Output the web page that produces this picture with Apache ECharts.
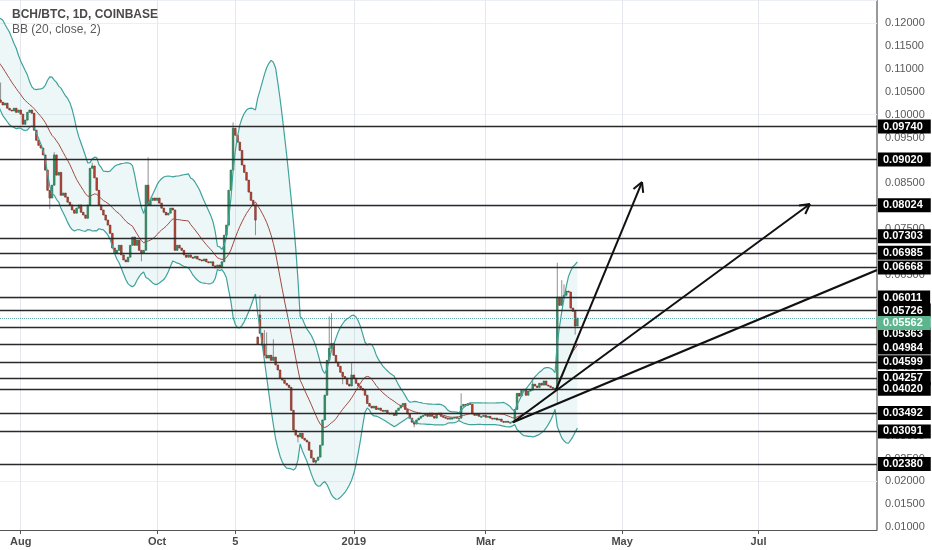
<!DOCTYPE html>
<html lang="en">
<head>
<meta charset="UTF-8">
<title>BCH/BTC, 1D, COINBASE</title>
<script src="https://cdn.jsdelivr.net/npm/echarts@6/dist/echarts.min.js"></script>
<style>
    html, body { margin: 0; padding: 0; background: #fff; }
    #chart { width: 932px; height: 550px; }
</style>
</head>
<body>
<div id="chart"></div>
<script>
    // bar number counted from Jul 1 2018 (Aug 1 = 31); bars before 22 only feed the bands
    var firstBar = 2;
    var closes = [
        0.1150, 0.1165, 0.1180, 0.1172, 0.1160, 0.1168, 0.1155, 0.1140, 0.1148, 0.1130,
        0.1118, 0.1105, 0.1092, 0.1100, 0.1080, 0.1065, 0.1058, 0.1046, 0.1040, 0.1032,
        0.1027, 0.1021, 0.1025, 0.1014, 0.1010, 0.1008, 0.1014, 0.1005, 0.1010,
        0.1001, 0.0979, 0.0988, 0.1005, 0.1010, 0.1003, 0.0966, 0.0944, 0.0933, 0.0927,
        0.0912, 0.0879, 0.0835, 0.0818, 0.0846, 0.0912, 0.0868, 0.0874, 0.0824, 0.0829,
        0.0820, 0.0809, 0.0803, 0.0792, 0.0785, 0.0796, 0.0803, 0.0787, 0.0781, 0.0774,
        0.0803, 0.0883, 0.0888, 0.0862, 0.0835, 0.0803, 0.0792, 0.0781, 0.0770, 0.0759,
        0.0741, 0.0709, 0.0698, 0.0704, 0.0715, 0.0694, 0.0683, 0.0679, 0.0689, 0.0715,
        0.0733, 0.0715, 0.0726, 0.0704, 0.0698, 0.0704, 0.0846, 0.0803, 0.0813, 0.0818,
        0.0813, 0.0818, 0.0807, 0.0796, 0.0787, 0.0781, 0.0785, 0.0796, 0.0792, 0.0704,
        0.0715, 0.0709, 0.0704, 0.0694, 0.0689, 0.0694, 0.0689, 0.0687, 0.0691, 0.0685,
        0.0683, 0.0681, 0.0685, 0.0679, 0.0677, 0.0679, 0.0670, 0.0666, 0.0672, 0.0666,
        0.0679, 0.0737, 0.0759, 0.0835, 0.0879, 0.0970, 0.0955, 0.0940, 0.0922, 0.0890,
        0.0874, 0.0857, 0.0831, 0.0813, 0.0803, 0.0770, 0.0500, 0.0523, 0.0497, 0.0475,
        0.0469, 0.0475, 0.0464, 0.0471, 0.0454, 0.0443, 0.0425, 0.0421, 0.0414, 0.0410,
        0.0405, 0.0355, 0.0312, 0.0301, 0.0297, 0.0305, 0.0294, 0.0290, 0.0286, 0.0268,
        0.0251, 0.0242, 0.0246, 0.0253, 0.0279, 0.0334, 0.0388, 0.0464, 0.0490, 0.0501,
        0.0475, 0.0460, 0.0451, 0.0438, 0.0429, 0.0425, 0.0412, 0.0408, 0.0432, 0.0425,
        0.0414, 0.0408, 0.0403, 0.0399, 0.0388, 0.0370, 0.0364, 0.0360, 0.0364, 0.0357,
        0.0360, 0.0355, 0.0353, 0.0355, 0.0349, 0.0347, 0.0349, 0.0344, 0.0355, 0.0360,
        0.0366, 0.0370, 0.0357, 0.0347, 0.0338, 0.0329, 0.0325, 0.0334, 0.0338, 0.0342,
        0.0344, 0.0347, 0.0342, 0.0349, 0.0342, 0.0338, 0.0347, 0.0349, 0.0342, 0.0340,
        0.0338, 0.0336, 0.0338, 0.0338, 0.0340, 0.0338, 0.0338, 0.0364, 0.0368, 0.0366,
        0.0370, 0.0368, 0.0347, 0.0344, 0.0347, 0.0342, 0.0342, 0.0344, 0.0340, 0.0342,
        0.0338, 0.0336, 0.0338, 0.0334, 0.0336, 0.0331, 0.0329, 0.0331, 0.0329, 0.0329,
        0.0331, 0.0357, 0.0392, 0.0386, 0.0399, 0.0401, 0.0388, 0.0397, 0.0399, 0.0412,
        0.0408, 0.0405, 0.0414, 0.0410, 0.0419, 0.0410, 0.0408, 0.0405, 0.0403, 0.0403,
        0.0602, 0.0584, 0.0600, 0.0606, 0.0615, 0.0613, 0.0578, 0.0571, 0.0539, 0.05562
    ];
    // opens that gap away from the previous close (fork pause)
    var gapOpens = [[137, 0.0515], [138, 0.0563]];
    var wickHighs = [[22, 0.1070], [46, 0.0918], [63, 0.0895], [88, 0.0907], [126, 0.0983],
        [138, 0.0606], [140, 0.0530], [141, 0.0525], [144, 0.0510], [169, 0.0560], [170, 0.0567],
        [179, 0.0458], [228, 0.0392], [260, 0.0425], [271, 0.0677], [273, 0.0639], [274, 0.0630]];
    var wickLows = [[44, 0.0794], [85, 0.0680], [136, 0.0737], [155, 0.0285], [163, 0.0238],
        [175, 0.0412], [207, 0.0318], [271, 0.0368], [279, 0.0520]];

    var levels = [0.09740, 0.09020, 0.08024, 0.07303, 0.06985, 0.06668, 0.06011, 0.05726,
        0.05363, 0.04984, 0.04599, 0.04257, 0.04020, 0.03492, 0.03091, 0.02380];
    var lastPrice = 0.05562;
    // label nudges (px) where the price boxes would collide
    var labelShift = { '0.07303': -2, '0.05363': 7, '0.04984': 3, '0.05562': 5 };

    // [fromBar, fromPrice, toBar, toPrice, hasHead]
    var arrows = [
        [270.4, 0.0399, 308.9, 0.0853, 1],
        [251.2, 0.0329, 384.0, 0.0805, 1],
        [251.2, 0.0329, 414.0, 0.0661, 0]
    ];

    var xTickBars = [31, 92, 127, 180, 239, 300, 361];
    var xTickLabels = ['Aug', 'Oct', '5', '2019', 'Mar', 'May', 'Jul'];
    var yTicks = [0.010, 0.015, 0.020, 0.025, 0.030, 0.035, 0.040, 0.045, 0.050, 0.055, 0.060,
        0.065, 0.070, 0.075, 0.080, 0.085, 0.090, 0.095, 0.100, 0.105, 0.110, 0.115, 0.120];

    var openOver = {}, highOver = {}, lowOver = {};
    gapOpens.forEach(function (d) { openOver[d[0]] = d[1]; });
    wickHighs.forEach(function (d) { highOver[d[0]] = d[1]; });
    wickLows.forEach(function (d) { lowOver[d[0]] = d[1]; });

    var candles = [];
    for (var k = 0; k < closes.length; k++) {
        var i = firstBar + k;
        var c = closes[k];
        var o = openOver[i] !== undefined ? openOver[i] : (k > 0 ? closes[k - 1] : c);
        var h = Math.max(o, c), l = Math.min(o, c);
        if (highOver[i] !== undefined) h = Math.max(h, highOver[i]);
        if (lowOver[i] !== undefined) l = Math.min(l, lowOver[i]);
        candles.push([i, o, c, l, h]);
    }

    // BB (20, close, 2)
    var bbMid = [], bbUp = [], bbLow = [];
    for (var k = 19; k < closes.length; k++) {
        var win = closes.slice(k - 19, k + 1);
        var mean = win.reduce(function (a, b) { return a + b; }, 0) / 20;
        var v = win.reduce(function (a, b) { return a + (b - mean) * (b - mean); }, 0) / 20;
        var sd = Math.sqrt(v);
        var i = firstBar + k;
        bbMid.push([i, mean]);
        bbUp.push([i, mean + 2 * sd]);
        bbLow.push([i, mean - 2 * sd]);
    }

    // one polygon between the bands
    function renderBand(params, api) {
        var pts = [];
        bbUp.forEach(function (d) { pts.push(api.coord(d)); });
        for (var k = bbLow.length - 1; k >= 0; k--) pts.push(api.coord(bbLow[k]));
        return { type: 'polygon', shape: { points: pts }, style: { fill: 'rgba(110,190,195,0.12)' } };
    }

    function renderCandle(params, api) {
        var x = api.value(0);
        var pO = api.coord([x, api.value(1)]);
        var pC = api.coord([x, api.value(2)]);
        var pL = api.coord([x, api.value(3)]);
        var pH = api.coord([x, api.value(4)]);
        var up = api.value(2) >= api.value(1);
        var w = api.size([1, 0])[0] * 0.72;
        var top = Math.min(pO[1], pC[1]);
        var bh = Math.max(Math.abs(pO[1] - pC[1]), 1);
        return {
            type: 'group',
            children: [
                { type: 'line', shape: { x1: pL[0], y1: pL[1], x2: pH[0], y2: pH[1] },
                  style: { stroke: '#8f8f8f', lineWidth: 1 } },
                { type: 'rect', shape: { x: pO[0] - w / 2, y: top, width: w, height: bh },
                  style: { fill: up ? '#3b9a6c' : '#c24a38', stroke: up ? '#1f6446' : '#6e2218', lineWidth: 0.6 } }
            ]
        };
    }

    function renderArrow(params, api) {
        var p0 = api.coord([api.value(0), api.value(1)]);
        var p1 = api.coord([api.value(2), api.value(3)]);
        var kids = [{ type: 'line', shape: { x1: p0[0], y1: p0[1], x2: p1[0], y2: p1[1] },
                      style: { stroke: '#111', lineWidth: 2 } }];
        if (api.value(4)) {
            var ang = Math.atan2(p1[1] - p0[1], p1[0] - p0[0]);
            [0.5, -0.5].forEach(function (d) {
                var a = ang + Math.PI + d;
                kids.push({ type: 'line',
                    shape: { x1: p1[0], y1: p1[1], x2: p1[0] + 11 * Math.cos(a), y2: p1[1] + 11 * Math.sin(a) },
                    style: { stroke: '#111', lineWidth: 2 } });
            });
        }
        return { type: 'group', children: kids };
    }

    function shiftOf(v) { return labelShift[v.toFixed(5)] || 0; }
    var lineData = levels.map(function (v) {
        return { yAxis: v, label: { offset: [0, shiftOf(v)] } };
    });
    lineData.push({
        yAxis: lastPrice,
        lineStyle: { color: '#6aa9a9', type: 'dotted', width: 1 },
        label: { backgroundColor: '#5cb58c', offset: [0, shiftOf(lastPrice)] }
    });

    var chart = echarts.init(document.getElementById('chart'));
    var option = {
        animation: false,
        backgroundColor: '#fff',
        textStyle: { fontFamily: 'Liberation Sans, Arial, sans-serif' },
        title: {
            text: 'BCH/BTC, 1D, COINBASE',
            subtext: 'BB (20, close, 2)',
            left: 7, top: 4, itemGap: 3,
            textStyle: { fontSize: 12, fontWeight: 'bold', color: '#4a4a4a' },
            subtextStyle: { fontSize: 12, color: '#5a5a5a' }
        },
        // price scale border on the right
        graphic: [{
            type: 'line', shape: { x1: 877, y1: 0, x2: 877, y2: 530 },
            style: { stroke: '#555', lineWidth: 1.2 }, silent: true
        }],
        grid: { left: 0, right: 55, top: 0, bottom: 20 },
        xAxis: {
            type: 'value', min: 21.74, max: 414,
            axisLine: { onZero: false, lineStyle: { color: '#555', width: 1.2 } },
            axisTick: { length: 4, lineStyle: { color: '#555' }, customValues: xTickBars },
            axisLabel: {
                customValues: xTickBars, color: '#4a4a4a', fontSize: 11, fontWeight: 'bold', margin: 6,
                formatter: function (v) { return xTickLabels[xTickBars.indexOf(v)]; }
            },
            splitLine: { show: false }
        },
        yAxis: {
            type: 'value', position: 'right', min: 0.0094, max: 0.1250,
            axisLine: { show: false },
            axisTick: { show: false },
            axisLabel: {
                customValues: yTicks, color: '#5a5a5a', fontSize: 11, margin: 8,
                formatter: function (v) { return v.toFixed(5); }
            },
            splitLine: { show: true, lineStyle: { color: '#eceff3' } }
        },
        series: [
            {
                type: 'custom', renderItem: renderBand, data: [[100, 0.05]], clip: true,
                silent: true, z: 1
            },
            {
                type: 'line', data: bbUp, symbol: 'none', silent: true,
                lineStyle: { color: '#3fa39b', width: 1.2 },
                // vertical grid at the month marks
                markLine: {
                    silent: true, symbol: ['none', 'none'], animation: false, z: 0,
                    lineStyle: { color: '#e6e6ee', width: 1, type: 'solid' },
                    label: { show: false },
                    data: xTickBars.map(function (b) { return { xAxis: b }; })
                }
            },
            {
                type: 'line', data: bbLow, symbol: 'none', silent: true,
                lineStyle: { color: '#3fa39b', width: 1.2 }
            },
            {
                type: 'custom', renderItem: renderCandle, data: candles, clip: true,
                encode: { x: 0, y: [1, 2, 3, 4] }, silent: true
            },
            {
                type: 'line', data: bbMid, symbol: 'none', silent: true,
                lineStyle: { color: '#a0493f', width: 1 },
                markLine: {
                    silent: true, symbol: ['none', 'none'], animation: false, precision: 5,
                    lineStyle: { color: '#2a2a2a', width: 1.3, type: 'solid' },
                    label: {
                        show: true, position: 'end', distance: 1,
                        backgroundColor: '#000', color: '#fff', fontSize: 11, fontWeight: 'bold',
                        padding: [2, 8, 1, 5],
                        formatter: function (p) { return Number(p.value).toFixed(5); }
                    },
                    data: lineData
                }
            },
            {
                type: 'custom', renderItem: renderArrow, data: arrows, clip: true,
                encode: { x: [0, 2], y: [1, 3] }, silent: true, z: 5
            }
        ]
    };
    chart.setOption(option);
</script>
</body>
</html>
